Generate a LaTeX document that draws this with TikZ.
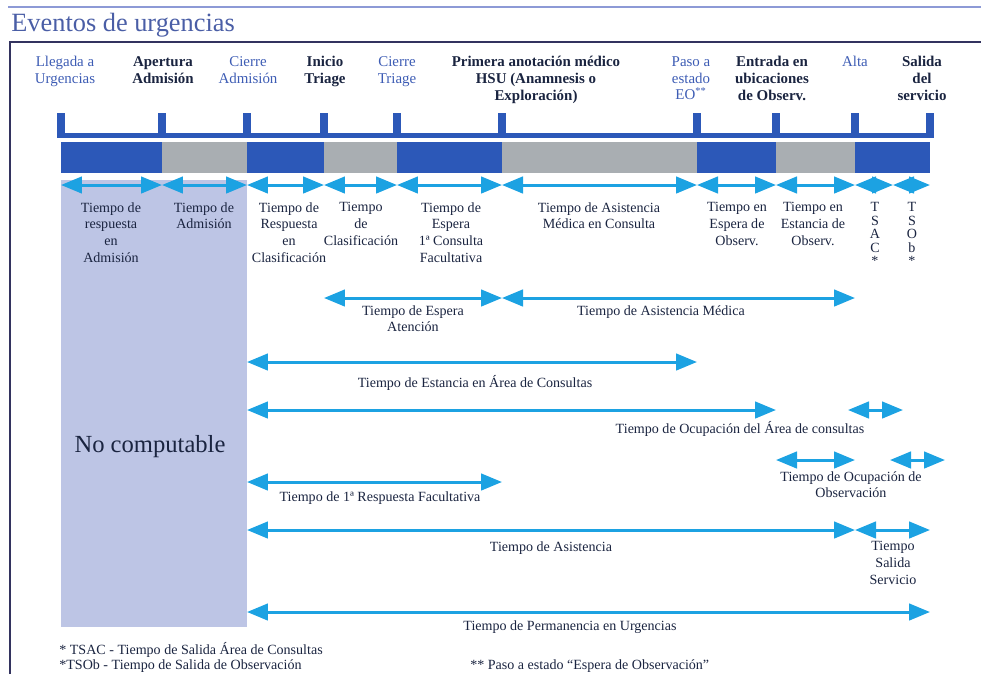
\documentclass[tikz,border=0pt]{standalone}
\usepackage{fontspec}
\setmainfont{Liberation Serif}
\usetikzlibrary{arrows.meta, positioning, calc}
\definecolor{barblue}{HTML}{2C58B8}
\definecolor{bargray}{HTML}{A9AEB2}
\definecolor{arrcyan}{HTML}{1CA2E2}
\definecolor{nocompfill}{HTML}{BDC5E5}
\definecolor{navy}{HTML}{1A2440}
\definecolor{evblue}{HTML}{3D5CB4}
\definecolor{boxline}{HTML}{33335F}
\definecolor{titleblue}{HTML}{4A5EA6}
\definecolor{toprule}{HTML}{8D9AD6}

\begin{document}
\begin{tikzpicture}[x=0.02cm, y=-0.02cm,
    evt/.style={anchor=north, align=center, text=evblue, inner sep=0pt,
      font=\fontsize{8.5}{9.6}\selectfont},
    evtb/.style={evt, text=navy, font=\fontsize{8.5}{9.6}\selectfont\bfseries},
    lbl/.style={anchor=north, align=center, text=navy, inner sep=0pt,
      font=\fontsize{8}{9.5}\selectfont},
    vlbl/.style={lbl, font=\fontsize{8}{7.7}\selectfont},
    arr/.style={{Triangle[length=0.42cm, width=0.33cm]}-{Triangle[length=0.42cm, width=0.33cm]},
      line width=0.06cm, arrcyan},
  ]
  \useasboundingbox (0,0) rectangle (981,674);
  % --- title and frame ----------------------------------------------
  \draw[toprule, line width=0.03cm] (8,7) -- (981,7);
  \node[anchor=west, text=titleblue, inner sep=0pt,
    font=\fontsize{15}{17}\selectfont] (title) at (11,25) {Eventos de urgencias};
  \draw[boxline, line width=0.05cm] (10,674) -- (10,42) -- (981,42);
  % --- not computable area ------------------------------------------
  \fill[nocompfill] (61,180) rectangle (247,627);
  \node[text=navy, font=\fontsize{14}{16}\selectfont] (nocomp) at (150,447) {No computable};
  % --- event positions on the timeline ------------------------------
  \foreach \n/\x in {0/61,1/162,2/247,3/324,4/397,5/502,6/697,7/776,8/855,9/930}
    \coordinate (e\n) at (\x,135);
  \coordinate (m89) at (893,135);
  \fill[barblue] (57,133) rectangle (934,138);
  \foreach \n in {0,...,9}
    \fill[barblue] ($(e\n)+(-4,3)$) rectangle ($(e\n)+(4,-22)$);
  \foreach \a/\b/\c in {0/1/barblue,1/2/bargray,2/3/barblue,3/4/bargray,4/5/barblue,
                        5/6/bargray,6/7/barblue,7/8/bargray,8/9/barblue}
    \fill[\c] ($(e\a)+(0,7)$) rectangle ($(e\b)+(0,38)$);
  % --- event names --------------------------------------------------
  \node[evt]  (h0) at (65,56)  {Llegada a\\Urgencias};
  \node[evtb] (h1) at (163,56) {Apertura\\Admisión};
  \node[evt]  (h2) at (248,56) {Cierre\\Admisión};
  \node[evtb] (h3) at (325,56) {Inicio\\Triage};
  \node[evt]  (h4) at (397,56) {Cierre\\Triage};
  \node[evtb] (h5) at (536,56) {Primera anotación médico\\HSU (Anamnesis o\\Exploración)};
  \node[evt]  (h6) at (691,56) {Paso a\\estado\\EO\textsuperscript{**}};
  \node[evtb] (h7) at (772,56) {Entrada en\\ubicaciones\\de Observ.};
  \node[evt]  (h8) at (855,56) {Alta};
  \node[evtb] (h9) at (922,56) {Salida\\del\\servicio};
  % --- rows of intervals --------------------------------------------
  \coordinate (rA) at (0,185);
  \coordinate (rB) at (0,298);
  \coordinate (rC) at (0,362);
  \coordinate (rD) at (0,410);
  \coordinate (rE) at (0,460);
  \coordinate (rF) at (0,482);
  \coordinate (rG) at (0,530);
  \coordinate (rH) at (0,612);
  \foreach \a/\b in {0/1,1/2,2/3,3/4,4/5,5/6,6/7,7/8}
    \draw[arr] (e\a |- rA) -- (e\b |- rA);
  \draw[arr] (e8 |- rA) -- (m89 |- rA);
  \draw[arr] (m89 |- rA) -- (e9 |- rA);
  \draw[arr] (e3 |- rB) -- (e5 |- rB);
  \draw[arr] (e5 |- rB) -- (e8 |- rB);
  \draw[arr] (e2 |- rC) -- (e6 |- rC);
  \draw[arr] (e2 |- rD) -- (e7 |- rD);
  \coordinate (sD1) at (848,410);
  \coordinate (sD2) at (903,410);
  \draw[arr] (sD1) -- (sD2);
  \draw[arr] (e7 |- rE) -- (e8 |- rE);
  \coordinate (sE1) at (890,460);
  \coordinate (sE2) at (945,460);
  \draw[arr] (sE1) -- (sE2);
  \draw[arr] (e2 |- rF) -- (e5 |- rF);
  \draw[arr] (e2 |- rG) -- (e8 |- rG);
  \draw[arr] (e8 |- rG) -- (e9 |- rG);
  \draw[arr] (e2 |- rH) -- (e9 |- rH);
  % --- interval names -----------------------------------------------
  \node[lbl] (tra)  at (111,202) {Tiempo de\\respuesta\\en\\Admisión};
  \node[lbl] (tad)  at (204,202) {Tiempo de\\Admisión};
  \node[lbl] (trc)  at (289,202) {Tiempo de\\Respuesta\\en\\Clasificación};
  \node[lbl] (tcl)  at (361,202) {Tiempo\\de\\Clasificación};
  \node[lbl] (tef)  at (451,202) {Tiempo de\\Espera\\1ª Consulta\\Facultativa};
  \node[lbl] (tamc) at (599,202) {Tiempo de Asistencia\\Médica en Consulta};
  \node[lbl] (teo)  at (737,202) {Tiempo en\\Espera de\\Observ.};
  \node[lbl] (tso)  at (813,202) {Tiempo en\\Estancia de\\Observ.};
  \node[vlbl] (tsac) at (875,202) {T\\S\\A\\C\\*};
  \node[vlbl] (tsob) at (912,202) {T\\S\\O\\b\\*};
  \node[lbl] (tea)  at (413,305) {Tiempo de Espera\\Atención};
  \node[lbl] (tam)  at (661,305) {Tiempo de Asistencia Médica};
  \node[lbl] (teac) at (475,375) {Tiempo de Estancia en Área de Consultas};
  \node[lbl] (toac) at (740,421) {Tiempo de Ocupación del Área de consultas};
  \node[lbl] (tobs) at (851,471) {Tiempo de Ocupación de\\Observación};
  \node[lbl] (trf)  at (380,491) {Tiempo de 1ª Respuesta Facultativa};
  \node[lbl] (tas)  at (551,541) {Tiempo de Asistencia};
  \node[lbl] (tss)  at (893,541) {Tiempo\\Salida\\Servicio};
  \node[lbl] (tpu)  at (570,620) {Tiempo de Permanencia en Urgencias};
  % --- footnotes ----------------------------------------------------
  \node[lbl, anchor=west] (fn1) at (59,650) {* TSAC - Tiempo de Salida Área de Consultas};
  \node[lbl, anchor=west] (fn2) at (59,666) {*TSOb - Tiempo de Salida de Observación};
  \node[lbl, anchor=west] (fn3) at (470,666) {** Paso a estado “Espera de Observación”};
\end{tikzpicture}
\end{document}
